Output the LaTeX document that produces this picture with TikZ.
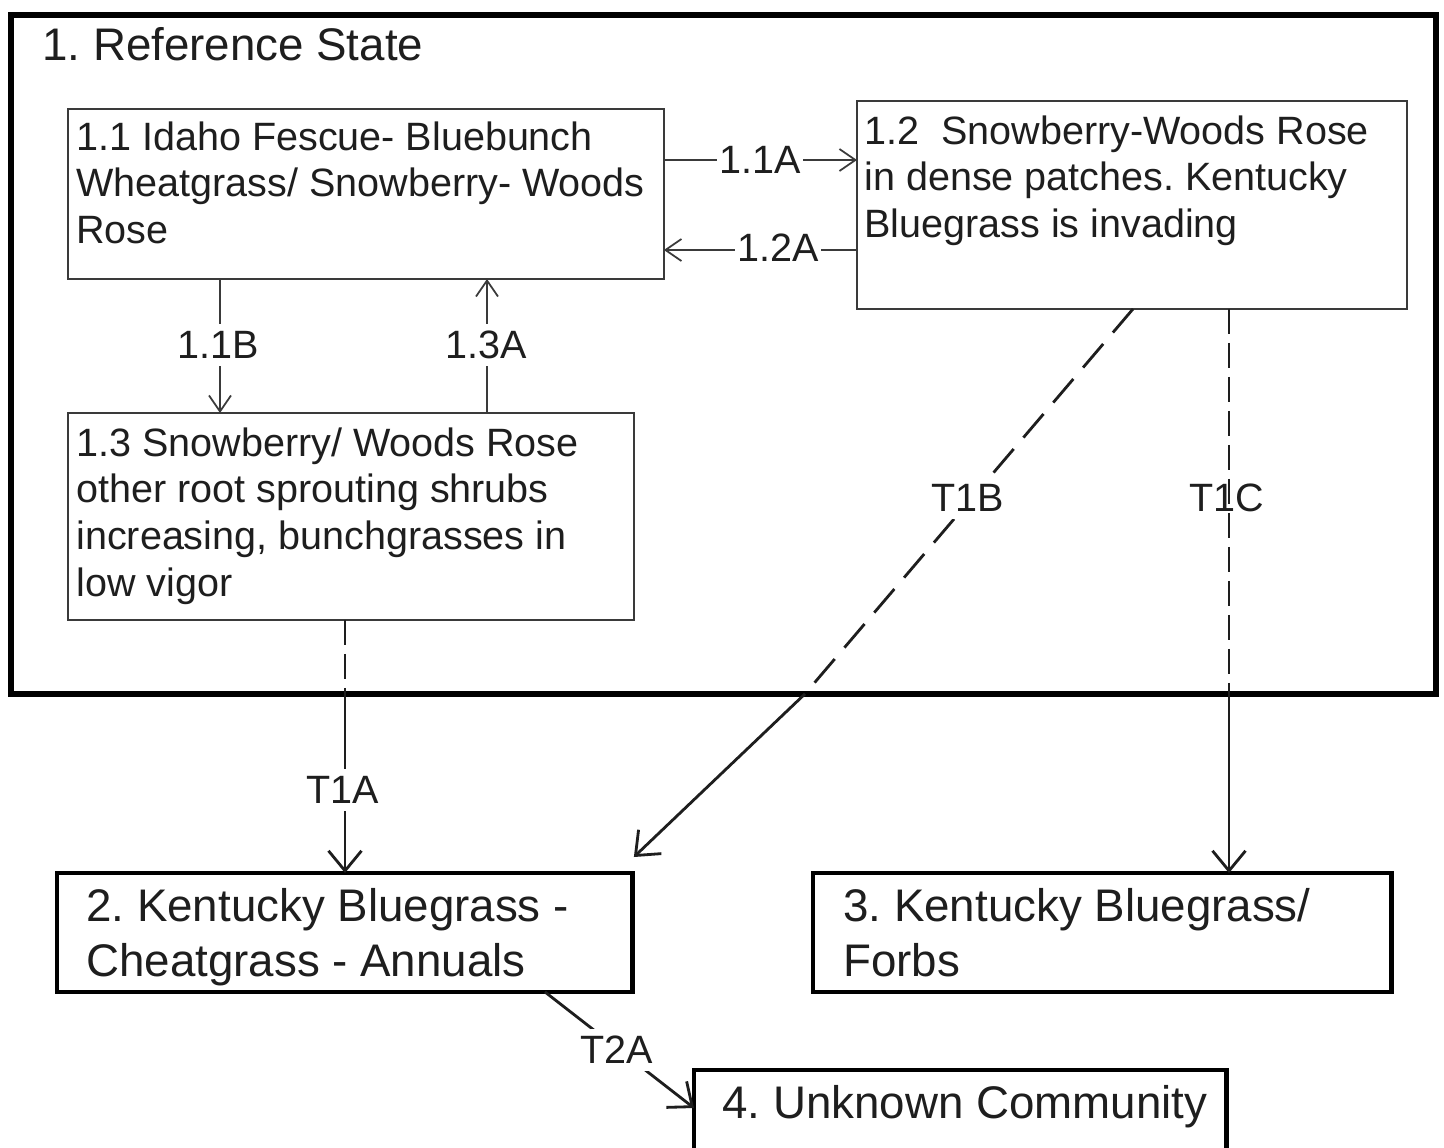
\documentclass[tikz,border=0pt]{standalone}
\usepackage{fontspec}
\setmainfont{Liberation Sans}
\usetikzlibrary{arrows.meta,calc}
\definecolor{ink}{HTML}{1E1E1E}
\definecolor{linegray}{HTML}{3A3A3A}
\frenchspacing
\begin{document}
\begin{tikzpicture}[x=0.02cm,y=-0.02cm,
  boxthin/.style={draw=linegray,line width=1.1pt,anchor=north west,inner sep=0pt,outer sep=0pt},
  boxthick/.style={draw=black,line width=2.8pt,anchor=north west,inner sep=0pt,outer sep=0pt},
  txt/.style={anchor=north west,inner sep=0pt,align=left,text=ink,font=\fontsize{22.5}{26.7}\selectfont\frenchspacing},
  bigtxt/.style={txt,font=\fontsize{26}{31.2}\selectfont\frenchspacing},
  lbl/.style={fill=white,inner xsep=1.5pt,inner ysep=4pt,text=ink,font=\fontsize{22.5}{27}\selectfont},
  smallarr/.style={draw=linegray,line width=1pt,-{Straight Barb[length=0.32cm,width=0.44cm]}},
  bigline/.style={draw=ink,line width=1.6pt},
  bigarr/.style={bigline,-{Straight Barb[length=0.4cm,width=0.66cm]}},
  dashA/.style={dash pattern=on 0.5cm off 0.18cm},
  dashB/.style={dash pattern=on 0.62cm off 0.3cm}]
\useasboundingbox (0,0) rectangle (1444,1147);
\fill[white] (0,0) rectangle (1444,1147);

% outer reference state box
\node[boxthick,line width=3.2pt,minimum width=28.5cm,minimum height=13.58cm] (ref) at (11,15) {};
\node[bigtxt] (title) at (42,27) {1. Reference State};

% community boxes
\node[boxthin,minimum width=11.92cm,minimum height=3.4cm] (n11) at (68,109) {};
\node[boxthin,minimum width=11.0cm,minimum height=4.16cm] (n12) at (857,101) {};
\node[boxthin,minimum width=11.32cm,minimum height=4.14cm] (n13) at (68,413) {};
\node[txt] (t11) at (76,121) {1.1 Idaho Fescue- Bluebunch\\Wheatgrass/ Snowberry- Woods\\Rose};
\node[txt] (t12) at (864,115) {1.2~~Snowberry-Woods Rose\\in dense patches. Kentucky\\Bluegrass is invading};
\node[txt] (t13) at (76,427) {1.3 Snowberry/ Woods Rose\\other root sprouting shrubs\\increasing, bunchgrasses in\\low vigor};

% state boxes
\node[boxthick,minimum width=11.52cm,minimum height=2.38cm] (n2) at (57,873) {};
\node[boxthick,minimum width=11.58cm,minimum height=2.38cm] (n3) at (813,873) {};
\node[boxthick,minimum width=10.66cm,minimum height=2.2cm] (n4) at (694,1070) {};
\node[bigtxt] (t2) at (86,888) {2. Kentucky Bluegrass -\\Cheatgrass - Annuals};
\node[bigtxt] (t3) at (843,888) {3. Kentucky Bluegrass/\\Forbs};
\node[bigtxt] (t4) at (722,1085) {4. Unknown Community};

% community pathways
\draw[smallarr] ($(n11.north east)+(0,51)$) -- ($(n12.north west)+(0,59)$);
\draw[smallarr] ($(n12.north west)+(0,149)$) -- ($(n11.north east)+(0,141)$);
\draw[smallarr] ($(n11.south west)+(152,0)$) -- ($(n13.north west)+(152,0)$);
\draw[smallarr] ($(n13.north west)+(419,0)$) -- ($(n11.south west)+(419,0)$);
\node[lbl] (l11a) at (760,160) {1.1A};
\node[lbl] (l12a) at (778,248) {1.2A};
\node[lbl] (l11b) at (218,345) {1.1B};
\node[lbl] (l13a) at (486,345) {1.3A};

% transitions
\coordinate (cA) at ($(ref.south west)+(334,0)$);
\coordinate (cB) at ($(ref.south west)+(794,0)$);
\coordinate (cC) at ($(ref.south west)+(1218,0)$);
\draw[bigline,dashA] ($(n13.south west)+(277,0)$) -- (cA);
\draw[bigarr] (cA) -- ($(n2.north west)+(288,0)$);
\draw[bigline,dashB] ($(n12.south west)+(276,0)$) -- (cB);
\draw[bigarr] (cB) -- ($(n2.north east)+(1,-16)$);
\draw[bigline,dashA] ($(n12.south west)+(372,0)$) -- (cC);
\draw[bigarr] (cC) -- ($(n3.north west)+(416,0)$);
\draw[bigarr] ($(n2.south west)+(488,0)$) -- ($(n4.north west)+(0,38)$);
\node[lbl] (lt1a) at (343,790) {T1A};
\node[lbl] (lt1b) at (968,498) {T1B};
\node[lbl,fill=none] (lt1c) at (1227,498) {T1C};
\node[lbl] (lt2a) at (617,1050) {T2A};
\end{tikzpicture}
\end{document}
